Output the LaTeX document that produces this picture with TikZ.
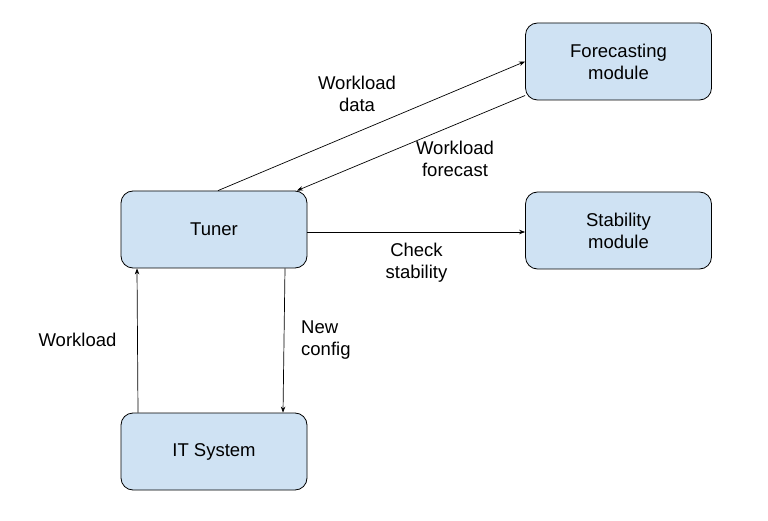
\documentclass[tikz,border=0pt]{standalone}
\usepackage{fontspec}
\setmainfont{Liberation Sans}
\usetikzlibrary{arrows.meta}
\definecolor{boxblue}{HTML}{CFE2F3}
\tikzset{
  box/.style={draw=black, fill=boxblue, line width=0.8pt, rounded corners=12pt,
    minimum width=186pt, minimum height=77pt, align=center, inner sep=0pt,
    font=\fontsize{18.5}{22}\selectfont},
  lbl/.style={align=center, inner sep=0pt, font=\fontsize{18.5}{22}\selectfont},
  conn/.style={draw=black, line width=0.7pt, -{Stealth[length=6pt,width=4.5pt]}}
}
\begin{document}
\begin{tikzpicture}[x=1pt,y=-1pt]
\path[use as bounding box, fill=white] (0,0) rectangle (768,521);
\node[box] (fc) at (618.5,61.5) {Forecasting\\module};
\node[box] (tuner) at (214,229.5) {Tuner};
\node[box] (stab) at (618.5,230.5) {Stability\\module};
\node[box] (it) at (214,451.5) {IT System};

\draw[conn] ([xshift=4pt]tuner.north) -- (fc.west);
\draw[conn] ([yshift=-34pt]fc.west) -- ([xshift=83pt]tuner.north);
\draw[conn] ([yshift=-2.5pt]tuner.east) -- ([yshift=-1.5pt]stab.west);
\draw[conn] ([xshift=-76pt]it.north) -- ([xshift=-77pt]tuner.south);
\draw[conn] ([xshift=71pt]tuner.south) -- ([xshift=69pt]it.north);

\node[lbl] (l1) at (357,94) {Workload\\data};
\node[lbl] (l2) at (455,158.5) {Workload\\forecast};
\node[lbl] (l3) at (416.5,262.5) {Check\\stability};
\node[lbl] (l4) at (77.5,340) {Workload};
\node[lbl, align=left, anchor=west] (l5) at (301,340.5) {New\\config};
\end{tikzpicture}
\end{document}
